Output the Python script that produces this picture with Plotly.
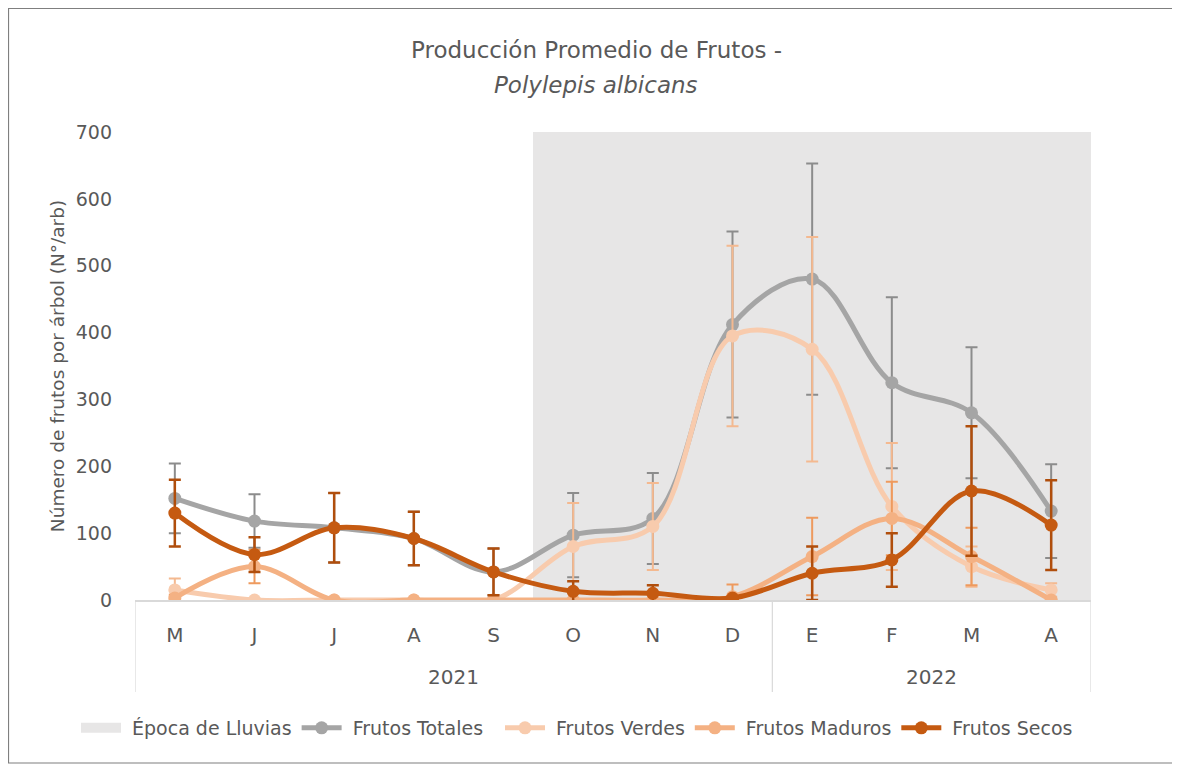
import plotly.graph_objects as go

months = ["M", "J", "J", "A", "S", "O", "N", "D", "E", "F", "M", "A"]
years = ["2021", "2022"]
year_span = [(0, 7), (8, 11)]
x_idx = list(range(len(months)))

rain_idx = [5, 6, 7, 8, 9, 10, 11]
rain_val = [700] * len(rain_idx)

totales = [152, 118, 108, 92, 42, 97, 122, 412, 480, 325, 280, 133]
totales_err = [52, 40, 52, 40, 35, 63, 68, 139, 173, 128, 98, 70]
verdes = [15, 0, 0, 0, 0, 80, 110, 395, 375, 140, 50, 15]
verdes_err = [17, 0, 0, 0, 0, 65, 65, 135, 168, 95, 30, 10]
maduros = [3, 50, 0, 0, 0, 0, 0, 5, 65, 122, 65, 0]
maduros_err = [5, 25, 0, 0, 0, 0, 0, 18, 58, 55, 43, 0]
secos = [130, 68, 108, 92, 42, 13, 10, 3, 40, 60, 163, 112]
secos_err = [50, 26, 52, 40, 35, 15, 12, 2, 40, 40, 97, 67]

TXT = "#595959"
FONT = "DejaVu Sans"
RAIN = "#E7E6E6"
NB = "\u00a0"

fig = go.Figure()
fig.add_trace(go.Bar(x=rain_idx, y=rain_val, width=1.0, marker=dict(color=RAIN, line=dict(width=0)),
                     name="Época de Lluvias", hoverinfo="skip", showlegend=False))
# legend swatch for the rain band (wide block like the original)
fig.add_trace(go.Scatter(x=[None], y=[None], mode="lines", name=NB + "Época de Lluvias",
                         line=dict(color=RAIN, width=17), legend="legend"))

def add_series(y, err, name, color, ecolor, ethick, leg):
    fig.add_trace(go.Scatter(
        x=x_idx, y=y, name=NB + name, mode="lines+markers", legend=leg,
        line=dict(color=color, width=5, shape="spline", smoothing=1.0),
        marker=dict(color=color, size=13),
        error_y=dict(type="data", array=err, visible=True, color=ecolor, thickness=ethick, width=6),
    ))

add_series(totales, totales_err, "Frutos Totales", "#A5A5A5", "#8C8C8C", 2, "legend")
add_series(verdes, verdes_err, "Frutos Verdes", "#F8CBAD", "#F4B990", 2, "legend2")
add_series(maduros, maduros_err, "Frutos Maduros", "#F4B183", "#EE9A5E", 2, "legend2")
add_series(secos, secos_err, "Frutos Secos", "#C55A11", "#B04E0C", 2.5, "legend2")

# screen-pixel helpers (plot area spans x 135..1091, y 132..600 on screen)
pw, ph = 956.0, 468.0
def ypx(py):
    return (600 - py) / ph
def xpx(px):
    return (px - 135) / pw

# title (two lines)
fig.add_annotation(x=xpx(596), y=ypx(50), xref="paper", yref="paper", showarrow=False,
                   text="Producción Promedio de Frutos -", yanchor="middle",
                   font=dict(family=FONT, size=23, color=TXT))
fig.add_annotation(x=xpx(596), y=ypx(85), xref="paper", yref="paper", showarrow=False,
                   text="<i>Polylepis albicans</i>", yanchor="middle",
                   font=dict(family=FONT, size=23, color=TXT))

# year labels and dividers of the two-level category axis
for yr, (a, b) in zip(years, year_span):
    fig.add_annotation(x=(a + b) / 2, y=ypx(677), xref="x", yref="paper", text=yr, showarrow=False,
                       yanchor="middle", font=dict(family=FONT, size=20, color=TXT))
for xv in [-0.5, 7.5, 11.5]:
    fig.add_shape(type="line", x0=xv, x1=xv, xref="x", yref="paper", y0=0, y1=ypx(692),
                  line=dict(color="#D9D9D9", width=1.2))
# outer chart border (figure edges)
fig.add_shape(type="rect", xref="paper", yref="paper",
              x0=xpx(8.5), x1=xpx(1178), y0=ypx(763), y1=ypx(8.5),
              line=dict(color="#7F7F7F", width=1.2))

leg_common = dict(orientation="h", xref="container", yref="container", xanchor="left",
                  y=1 - (728 - 8) / 765, yanchor="middle",
                  font=dict(family=FONT, size=19, color=TXT), traceorder="normal", itemwidth=40,
                  tracegroupgap=0, bgcolor="rgba(0,0,0,0)")

fig.update_layout(
    width=1180, height=765,
    margin=dict(l=127, r=97, t=124, b=173),
    paper_bgcolor="white", plot_bgcolor="white",
    font=dict(family=FONT, color=TXT, size=19),
    showlegend=True,
    legend=dict(x=(76 - 8) / 1180, **leg_common),
    legend2=dict(x=(500 - 8) / 1180, **leg_common),
    bargap=0,
    xaxis=dict(range=[-0.5, 11.5], tickmode="array", tickvals=x_idx, ticktext=months,
               showgrid=False, zeroline=False, showline=True, linecolor="#D9D9D9", linewidth=1.5,
               ticks="", ticklabelstandoff=16, tickfont=dict(family=FONT, size=20, color=TXT)),
    yaxis=dict(range=[0, 700], tickmode="array", tickvals=list(range(0, 701, 100)),
               showgrid=False, zeroline=False, showline=False, ticks="", ticklabelstandoff=22,
               tickfont=dict(family=FONT, size=19, color=TXT),
               title=dict(text="Número de frutos por árbol (N°/arb)", standoff=6,
                          font=dict(family=FONT, size=18.5, color=TXT))),
)

fig.write_html("out.html")
